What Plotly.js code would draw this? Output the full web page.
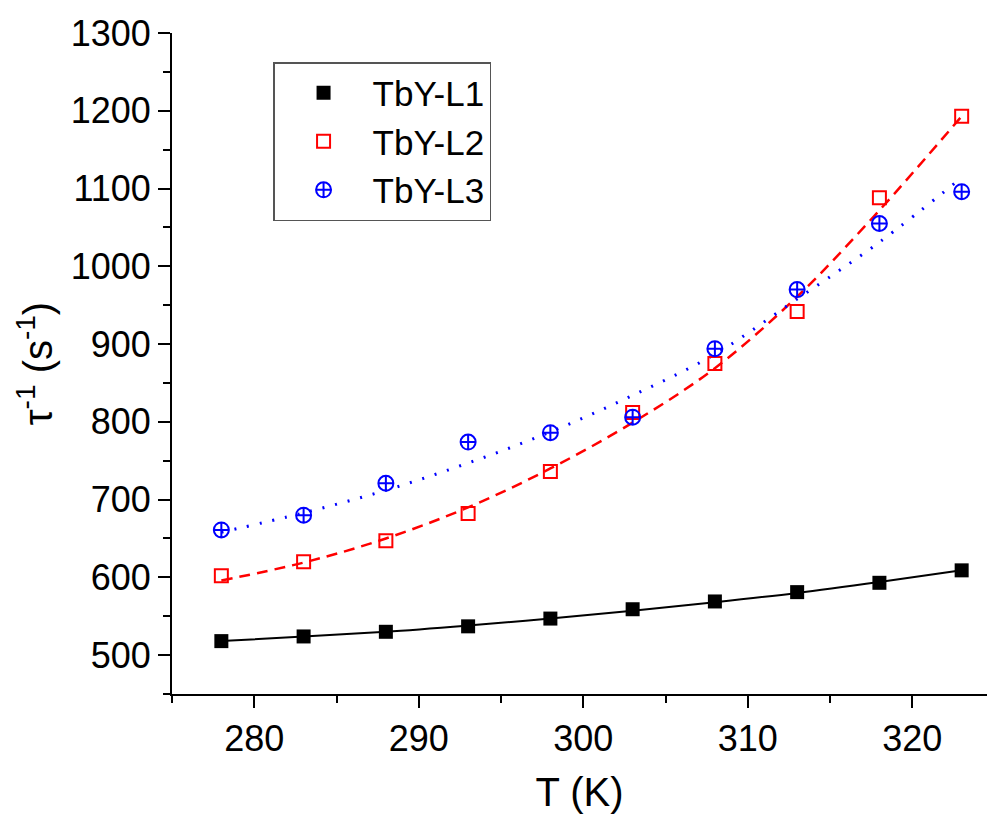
<!DOCTYPE html>
<html>
<head>
<meta charset="utf-8">
<script src="https://cdn.plot.ly/plotly-3.0.1.min.js"></script>
<style>html,body{margin:0;padding:0;background:#fff;}#chart{width:987px;height:816px;}</style>
</head>
<body>
<div id="chart"></div>
<script>
// Temperatures (K)
const temps = [278, 283, 288, 293, 298, 303, 308, 313, 318, 323];
// Measured decay rates tau^-1 (s^-1)
const l1Data = [518, 524, 530, 537, 547, 559, 569, 581, 593, 609];
const l2Data = [602, 620, 647, 682, 736, 812, 875, 942, 1088, 1193];
const l3Data = [661, 680, 721, 774, 786, 806, 894, 970, 1055, 1096];
// Fitted curves at the same temperatures
const l1Fit = [518, 524, 530, 538, 547, 557, 568, 580, 594, 609];
const l2Fit = [596, 619, 650, 690, 740, 799, 869, 961, 1072, 1193];
const l3Fit = [658, 683, 712, 747, 787, 834, 887, 958, 1031, 1114];
const seriesNames = ["TbY-L1", "TbY-L2", "TbY-L3"];
const xTicks = [280, 290, 300, 310, 320];
const yTicks = [500, 600, 700, 800, 900, 1000, 1100, 1200, 1300];

const FONT = "Liberation Sans, Arial, sans-serif";

const traces = [
  {x: temps, y: l1Fit, mode: "lines", line: {color: "#000000", width: 2, shape: "spline"}, showlegend: false, hoverinfo: "skip"},
  {x: temps, y: l2Fit, mode: "lines", line: {color: "#FF0000", width: 2.5, shape: "spline", dash: "11px,7px"}, showlegend: false, hoverinfo: "skip"},
  {x: temps, y: l3Fit, mode: "lines", line: {color: "#0000FF", width: 3, shape: "spline", dash: "2px,11px"}, showlegend: false, hoverinfo: "skip"},
  {x: temps, y: l1Data, name: seriesNames[0], mode: "markers",
   marker: {symbol: "square", size: 14, color: "#000000", line: {width: 0}}},
  {x: temps, y: l2Data, name: seriesNames[1], mode: "markers",
   marker: {symbol: "square-open", size: 13, color: "#FF0000", line: {width: 2, color: "#FF0000"}}},
  {x: temps, y: l3Data, name: seriesNames[2], mode: "markers",
   marker: {symbol: "circle-cross-open", size: 15, color: "#0000FF", line: {width: 2, color: "#0000FF"}}}
];

const layout = {
  width: 987, height: 816,
  paper_bgcolor: "#ffffff", plot_bgcolor: "#ffffff",
  margin: {l: 172, r: 0, t: 33, b: 122},
  font: {family: FONT, color: "#000000", size: 36},
  showlegend: true,
  legend: {
    x: 0.124, y: 0.956, xanchor: "left", yanchor: "top",
    bgcolor: "#ffffff", bordercolor: "#555555", borderwidth: 1.5,
    font: {family: FONT, size: 35, color: "#000000"},
    itemwidth: 88, tracegroupgap: 0
  },
  xaxis: {
    range: [275, 324.54],
    tickvals: xTicks, ticktext: xTicks.map(String),
    ticks: "outside", ticklen: 12, tickwidth: 2, tickcolor: "#000000",
    minor: {dtick: 5, ticks: "outside", ticklen: 7, tickwidth: 2, tickcolor: "#000000"},
    showline: true, linewidth: 2, linecolor: "#000000",
    showgrid: false, zeroline: false,
    tickfont: {family: FONT, size: 36, color: "#000000"},
    title: {text: "T (K)", font: {family: FONT, size: 40, color: "#000000"}, standoff: 20}
  },
  yaxis: {
    range: [450, 1300],
    tickvals: yTicks, ticktext: yTicks.map(String),
    ticks: "outside", ticklen: 12, tickwidth: 2, tickcolor: "#000000",
    minor: {dtick: 50, ticks: "outside", ticklen: 7, tickwidth: 2, tickcolor: "#000000"},
    showline: true, linewidth: 2, linecolor: "#000000",
    showgrid: false, zeroline: false,
    tickfont: {family: FONT, size: 36, color: "#000000"},
    title: {text: "τ<sup>-1</sup> (s<sup>-1</sup>)", font: {family: FONT, size: 40, color: "#000000"}, standoff: 6}
  }
};

Plotly.newPlot("chart", traces, layout, {staticPlot: true, displayModeBar: false});
</script>
</body>
</html>
